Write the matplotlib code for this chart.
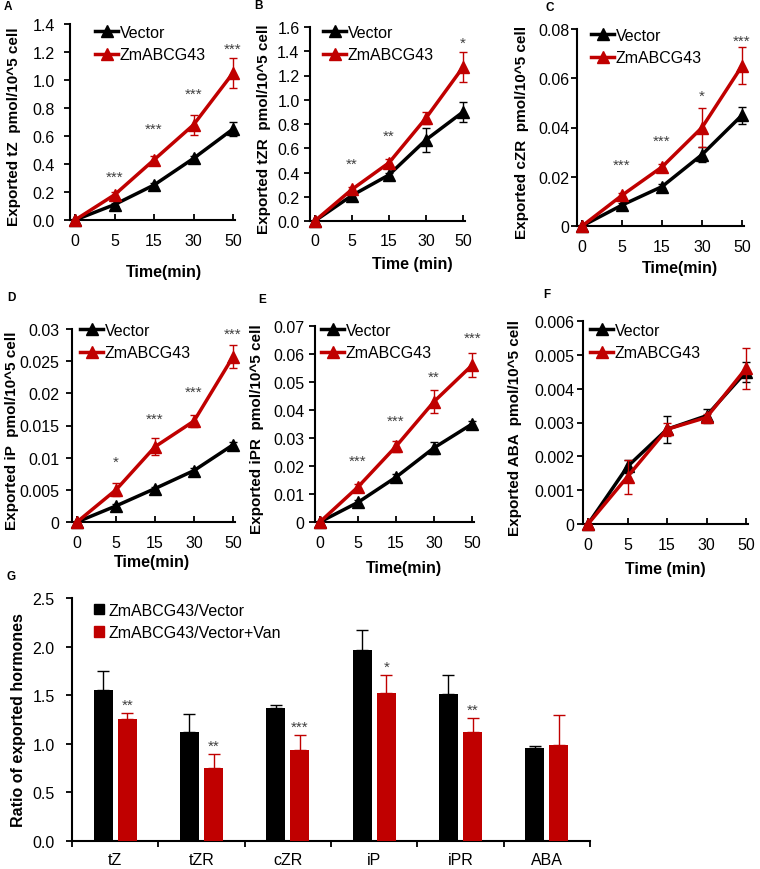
import numpy as np
import matplotlib.pyplot as plt
from matplotlib.lines import Line2D
from matplotlib.patches import Patch

plt.rcParams['font.family'] = ['Liberation Sans', 'DejaVu Sans']

W, H = 760, 870
RED = '#c00000'
STAR = '#404040'

time_labels = ['0', '5', '15', '30', '50']

# A tZ
tz_vec = [0, 0.11, 0.25, 0.44, 0.65]
tz_vec_err = [0, 0.01, 0.015, 0.02, 0.05]
tz_zm = [0, 0.18, 0.43, 0.68, 1.05]
tz_zm_err = [0, 0.02, 0.025, 0.07, 0.11]
tz_stars = ['***', '***', '***', '***']
tz_star_y = [0.31, 0.65, 0.90, 1.22]
tz_yticks = [0.0, 0.2, 0.4, 0.6, 0.8, 1.0, 1.2, 1.4]
tz_ylabels = ['0.0', '0.2', '0.4', '0.6', '0.8', '1.0', '1.2', '1.4']

# B tZR
tzr_vec = [0, 0.21, 0.38, 0.67, 0.90]
tzr_vec_err = [0, 0.02, 0.02, 0.10, 0.08]
tzr_zm = [0, 0.26, 0.48, 0.85, 1.27]
tzr_zm_err = [0, 0.02, 0.03, 0.05, 0.12]
tzr_stars = ['**', '**', '', '*']
tzr_star_y = [0.47, 0.70, 0, 1.47]
tzr_yticks = [0.0, 0.2, 0.4, 0.6, 0.8, 1.0, 1.2, 1.4, 1.6]
tzr_ylabels = ['0.0', '0.2', '0.4', '0.6', '0.8', '1.0', '1.2', '1.4', '1.6']

# C cZR
czr_vec = [0, 0.0085, 0.016, 0.029, 0.045]
czr_vec_err = [0, 0.0008, 0.001, 0.003, 0.0035]
czr_zm = [0, 0.0125, 0.024, 0.040, 0.065]
czr_zm_err = [0, 0.001, 0.001, 0.008, 0.0075]
czr_stars = ['***', '***', '*', '***']
czr_star_y = [0.0247, 0.0347, 0.0527, 0.0753]
czr_yticks = [0, 0.02, 0.04, 0.06, 0.08]
czr_ylabels = ['0', '0.02', '0.04', '0.06', '0.08']

# D iP
ip_vec = [0, 0.0025, 0.0052, 0.0080, 0.0120]
ip_vec_err = [0, 0.0003, 0.0003, 0.0004, 0.0004]
ip_zm = [0, 0.0050, 0.0117, 0.0157, 0.0257]
ip_zm_err = [0, 0.0010, 0.0013, 0.0010, 0.0018]
ip_stars = ['*', '***', '***', '***']
ip_star_y = [0.0093, 0.0160, 0.0202, 0.0292]
ip_yticks = [0, 0.005, 0.01, 0.015, 0.02, 0.025, 0.03]
ip_ylabels = ['0', '0.005', '0.01', '0.015', '0.02', '0.025', '0.03']

# E iPR
ipr_vec = [0, 0.0070, 0.0160, 0.0265, 0.0350]
ipr_vec_err = [0, 0.0008, 0.0010, 0.0022, 0.0012]
ipr_zm = [0, 0.0125, 0.0270, 0.0430, 0.0560]
ipr_zm_err = [0, 0.0012, 0.0020, 0.0042, 0.0042]
ipr_stars = ['***', '***', '**', '***']
ipr_star_y = [0.0218, 0.0360, 0.0520, 0.0657]
ipr_yticks = [0, 0.01, 0.02, 0.03, 0.04, 0.05, 0.06, 0.07]
ipr_ylabels = ['0', '0.01', '0.02', '0.03', '0.04', '0.05', '0.06', '0.07']

# F ABA
aba_vec = [0, 0.0017, 0.0028, 0.0032, 0.0045]
aba_vec_err = [0, 0.0002, 0.0004, 0.0002, 0.0003]
aba_zm = [0, 0.0014, 0.0028, 0.00315, 0.0046]
aba_zm_err = [0, 0.0005, 0.0002, 0.0001, 0.0006]
aba_stars = ['', '', '', '']
aba_star_y = [0, 0, 0, 0]
aba_yticks = [0, 0.001, 0.002, 0.003, 0.004, 0.005, 0.006]
aba_ylabels = ['0', '0.001', '0.002', '0.003', '0.004', '0.005', '0.006']

# G ratios
hormones = ['tZ', 'tZR', 'cZR', 'iP', 'iPR', 'ABA']
ratio = [1.55, 1.12, 1.37, 1.96, 1.51, 0.96]
ratio_err = [0.20, 0.19, 0.03, 0.21, 0.20, 0.02]
ratio_van = [1.26, 0.75, 0.94, 1.52, 1.12, 0.99]
ratio_van_err = [0.06, 0.15, 0.15, 0.19, 0.15, 0.31]
ratio_stars = ['**', '**', '***', '*', '**', '']
g_yticks = [0.0, 0.5, 1.0, 1.5, 2.0, 2.5]
g_ylabels = ['0.0', '0.5', '1.0', '1.5', '2.0', '2.5']

fig = plt.figure(figsize=(W / 100, H / 100), dpi=100)


def add_ax(l, r, t, b):
    return fig.add_axes([l / W, 1 - b / H, (r - l) / W, (b - t) / H])


def ftext(x, y, s, **kw):
    fig.text(x / W, 1 - y / H, s, **kw)


def style(ax, ypad):
    for side in ['top', 'right']:
        ax.spines[side].set_visible(False)
    for side in ['left', 'bottom']:
        ax.spines[side].set_linewidth(1.5)
    ax.tick_params(axis='y', direction='out', length=4, width=1.3, pad=ypad, labelsize=11.5)


# (letter, name, vec, vec_err, zm, zm_err, stars, star_y, yticks, ylabels,
#  axes box px, ypad, ylabel x, xlabel pos, xlabel text, legend pos, letter pos)
panels = [
    ('A', 'tZ', tz_vec, tz_vec_err, tz_zm, tz_zm_err, tz_stars, tz_star_y, tz_yticks, tz_ylabels,
     (70, 235, 25, 221), 7, 14, (164, 273), 'Time(min)', (95, 26), (4, 7)),
    ('B', 'tZR', tzr_vec, tzr_vec_err, tzr_zm, tzr_zm_err, tzr_stars, tzr_star_y, tzr_yticks, tzr_ylabels,
     (310, 465, 28, 222), 3.5, 264, (412, 265), 'Time (min)', (323, 26), (254, 6)),
    ('C', 'cZR', czr_vec, czr_vec_err, czr_zm, czr_zm_err, czr_stars, czr_star_y, czr_yticks, czr_ylabels,
     (577, 744, 30, 227), 1.5, 522, (680, 268), 'Time(min)', (591, 29), (545, 8)),
    ('D', 'iP', ip_vec, ip_vec_err, ip_zm, ip_zm_err, ip_stars, ip_star_y, ip_yticks, ip_ylabels,
     (72, 235, 330, 523), 5, 12, (152, 562), 'Time(min)', (80, 324), (7, 298)),
    ('E', 'iPR', ipr_vec, ipr_vec_err, ipr_zm, ipr_zm_err, ipr_stars, ipr_star_y, ipr_yticks, ipr_ylabels,
     (315, 474, 327, 523), 3.5, 257, (404, 568), 'Time(min)', (321, 324), (258, 300)),
    ('F', 'ABA', aba_vec, aba_vec_err, aba_zm, aba_zm_err, aba_stars, aba_star_y, aba_yticks, aba_ylabels,
     (583, 748, 322, 525), 2, 515, (665, 570), 'Time (min)', (590, 324), (543, 295)),
]

x = np.arange(len(time_labels))

for (letter, name, vec, vec_err, zm, zm_err, stars, star_y, yticks, ylabels,
     box, ypad, ylx, xlpos, xltext, legpos, letpos) in panels:
    l, r, t, b = box
    ax = add_ax(l, r, t, b)
    style(ax, ypad)
    ax.errorbar(x, vec, yerr=vec_err, color='black', lw=2.5, marker='^', ms=8,
                elinewidth=1, capsize=3, capthick=1, clip_on=False, zorder=3, label='Vector')
    ax.errorbar(x, zm, yerr=zm_err, color=RED, lw=2.5, marker='^', ms=8,
                elinewidth=1, capsize=3, capthick=1, clip_on=False, zorder=4, label='ZmABCG43')
    for i, s in enumerate(stars):
        if s:
            ax.text(x[i + 1], star_y[i], s, ha='center', va='center', fontsize=11, color=STAR)
    ax.set_xlim(-5 / 39.0, 4.05)
    ax.set_ylim(yticks[0], yticks[-1])
    ax.set_yticks(yticks)
    ax.set_yticklabels(ylabels)
    ax.set_xticks(x)
    ax.set_xticklabels(time_labels)
    ax.tick_params(axis='x', direction='in', length=4, width=1.3, pad=9, labelsize=11.5)
    handles = [Line2D([], [], color='black', lw=2.5, marker='^', ms=8),
               Line2D([], [], color=RED, lw=2.5, marker='^', ms=8)]
    ax.legend(handles, ['Vector', 'ZmABCG43'], loc='upper left', frameon=False,
              bbox_to_anchor=(legpos[0] / W, 1 - legpos[1] / H), bbox_transform=fig.transFigure,
              borderaxespad=0, borderpad=0, handlelength=1.45, handletextpad=0.1,
              labelspacing=0.45, fontsize=11.5)
    ftext(ylx, (t + b) / 2 + 4, 'Exported %s  pmol/10^5 cell' % name, rotation=90,
          ha='center', va='center', fontsize=11, fontweight='bold')
    ftext(xlpos[0], xlpos[1], xltext, ha='center', va='center', fontsize=11.5, fontweight='bold')
    ftext(letpos[0], letpos[1], letter, ha='left', va='center', fontsize=8.5, fontweight='bold')

# G bars
axg = add_ax(72, 590, 599, 842)
style(axg, 8.5)
xg = np.arange(len(hormones))
bw = 0.22
axg.bar(xg - 0.14, ratio, bw, color='black', yerr=[np.zeros(len(ratio)), ratio_err],
        error_kw=dict(ecolor='black', elinewidth=1, capsize=4, capthick=1), zorder=3)
axg.bar(xg + 0.14, ratio_van, bw, color=RED, yerr=[np.zeros(len(ratio_van)), ratio_van_err],
        error_kw=dict(ecolor=RED, elinewidth=1, capsize=4, capthick=1), zorder=3)
for i, s in enumerate(ratio_stars):
    if s:
        axg.text(xg[i] + 0.14, ratio_van[i] + ratio_van_err[i] + 0.08, s, ha='center',
                 va='center', fontsize=11, color=STAR)
axg.set_xlim(-0.5, len(hormones) - 0.5)
axg.set_ylim(0, 2.5)
axg.set_yticks(g_yticks)
axg.set_yticklabels(g_ylabels)
axg.set_xticks(xg)
axg.set_xticklabels(hormones)
axg.set_xticks(np.arange(len(hormones) + 1) - 0.5, minor=True)
axg.tick_params(axis='x', which='major', length=0, pad=8, labelsize=11.5)
axg.tick_params(axis='x', which='minor', direction='out', length=4, width=1.3)
axg.legend([Patch(color='black'), Patch(color=RED)],
           ['ZmABCG43/Vector', 'ZmABCG43/Vector+Van'], loc='upper left', frameon=False,
           bbox_to_anchor=(94 / W, 1 - 604 / H), bbox_transform=fig.transFigure,
           borderaxespad=0, borderpad=0, handlelength=0.6, handleheight=0.6,
           handletextpad=0.3, labelspacing=0.45, fontsize=11.5)
ftext(19, 720, 'Ratio of exported hormones', rotation=90, ha='center', va='center',
      fontsize=11.5, fontweight='bold')
ftext(7, 577, 'G', ha='left', va='center', fontsize=8.5, fontweight='bold')

fig.savefig('out.png', dpi=100, facecolor='white')
